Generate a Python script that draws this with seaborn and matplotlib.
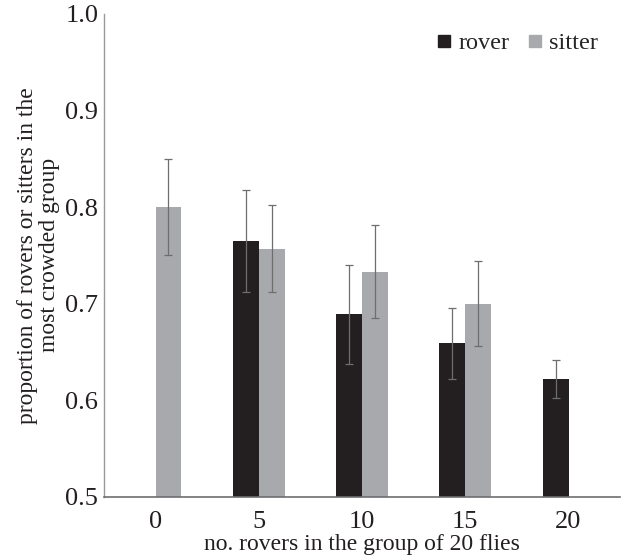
import matplotlib
matplotlib.use("Agg")
import matplotlib.pyplot as plt
from matplotlib.lines import Line2D
import numpy as np
import pandas as pd
import seaborn as sns

groups = ["0", "5", "10", "15", "20"]
rover = [np.nan, 0.765, 0.689, 0.659, 0.622]
rover_err = [np.nan, 0.053, 0.051, 0.037, 0.020]
sitter = [0.800, 0.757, 0.733, 0.700, np.nan]
sitter_err = [0.050, 0.045, 0.048, 0.044, np.nan]

colors = {"rover": "#231f20", "sitter": "#a7a9ac"}

data = pd.DataFrame({
    "group": groups * 2,
    "type": ["rover"] * 5 + ["sitter"] * 5,
    "value": rover + sitter,
    "err": rover_err + sitter_err,
}).dropna()

sns.set_style("white")
plt.rcParams["font.family"] = ["Liberation Serif", "DejaVu Serif"]

fig = plt.figure(figsize=(6.22, 5.57), dpi=100)
ax = fig.add_axes([0.167, 0.108, 0.83, 0.867])

sns.barplot(data=data, x="group", y="value", hue="type", order=groups,
            hue_order=["rover", "sitter"], palette=colors, width=0.5,
            errorbar=None, saturation=1, legend=False, ax=ax, linewidth=0)

# error bars from the bar patches
for cont, kind in zip(ax.containers, ["rover", "sitter"]):
    sub = data[data["type"] == kind]
    xs = [b.get_x() + b.get_width() / 2 for b in cont]
    ax.errorbar(xs, sub["value"], yerr=sub["err"], fmt="none",
                ecolor="#6d6e70", elinewidth=0.9, capsize=2.6, capthick=0.9)

ax.set_ylim(0.5, 1.0)
ax.set_yticks([0.5, 0.6, 0.7, 0.8, 0.9, 1.0])
ax.set_yticklabels(["0.5", "0.6", "0.7", "0.8", "0.9", "1.0"])
ax.set_xlim(-0.5, 4.5)
ax.tick_params(labelsize=19, length=0, colors="#231f20")
ax.tick_params(axis="x", pad=10)
ax.tick_params(axis="y", pad=4)

for s in ["top", "right"]:
    ax.spines[s].set_visible(False)
ax.spines["left"].set_color("#9a9a9a")
ax.spines["bottom"].set_color("#6d6e70")
ax.spines["left"].set_linewidth(1.0)
ax.spines["bottom"].set_linewidth(1.2)

ax.set_xlabel("no. rovers in the group of 20 flies", fontsize=17, labelpad=1,
              color="#231f20")
ax.set_ylabel("proportion of rovers or sitters in the\nmost crowded group",
              fontsize=17, labelpad=4, color="#231f20", linespacing=1.05)

handles = [Line2D([], [], marker="s", linestyle="none", markersize=9,
                  color=colors[k]) for k in ["rover", "sitter"]]
ax.legend(handles, ["rover", "sitter"], loc="upper right", ncol=2,
          frameon=False, fontsize=17.5, handletextpad=0.1, columnspacing=0.55,
          handlelength=1.0, bbox_to_anchor=(1.0, 1.007))

fig.savefig("out.png", dpi=100)
